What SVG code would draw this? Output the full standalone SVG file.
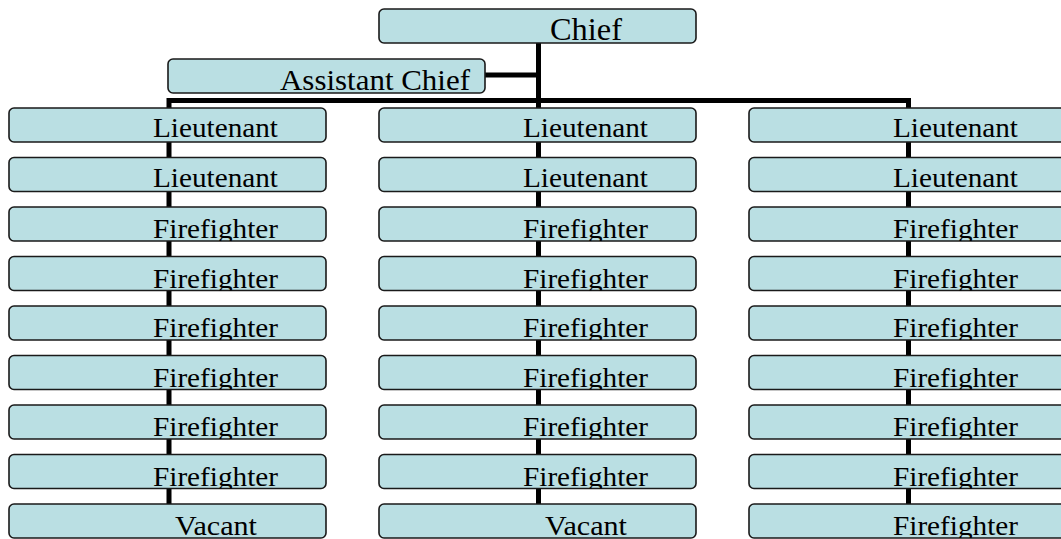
<svg xmlns="http://www.w3.org/2000/svg" width="1061" height="539" viewBox="0 0 1061 539">
  <style>
    .box { fill: #badfe3; stroke: #1a1a1a; stroke-width: 1.6; }
    .lbl { font-family: "Liberation Serif", "Times New Roman", serif; font-size: 27px; fill: #000; text-anchor: middle; }
    .big { font-size: 31px; }
    .mid { font-size: 30px; }
    .wire { fill: none; stroke: #000; stroke-width: 5; stroke-linejoin: miter; }
  </style>
  <defs>
    <!-- Labels are cut off at the lower edge of their boxes -->
    <clipPath id="rows">
      <rect x="0" y="9" width="1061" height="34"/>
      <rect x="0" y="59" width="1061" height="33"/>
      <rect x="0" y="108" width="1061" height="34"/>
      <rect x="0" y="157.5" width="1061" height="34"/>
      <rect x="0" y="207" width="1061" height="34"/>
      <rect x="0" y="256.5" width="1061" height="34"/>
      <rect x="0" y="306" width="1061" height="34"/>
      <rect x="0" y="355.5" width="1061" height="34"/>
      <rect x="0" y="405" width="1061" height="34"/>
      <rect x="0" y="454.5" width="1061" height="34"/>
      <rect x="0" y="504" width="1061" height="34"/>
    </clipPath>
    <rect id="cell" width="317" height="34" rx="5" ry="5"/>
  </defs>

  <!-- connectors -->
  <g id="connectors">
    <path class="wire" d="M538.5,43 V504"/>
    <path class="wire" d="M485,75 H538.5"/>
    <path class="wire" d="M169,504 V100.5 H908.5 V504"/>
  </g>

  <!-- top of the chain -->
  <g id="chief">
    <use href="#cell" class="box" x="379" y="9"/>
    <text class="lbl big" x="586" y="39.5" textLength="72" lengthAdjust="spacingAndGlyphs" clip-path="url(#rows)">Chief</text>
  </g>
  <g id="assistant-chief">
    <use href="#cell" class="box" x="168" y="59" height="33"/>
    <text class="lbl mid" x="375" y="89.5" textLength="190" lengthAdjust="spacingAndGlyphs" clip-path="url(#rows)">Assistant Chief</text>
  </g>

  <!-- column 1 -->
  <g id="c1-r1"><use href="#cell" class="box" x="9" y="108"/><text class="lbl" x="215.5" y="137" textLength="125" lengthAdjust="spacingAndGlyphs" clip-path="url(#rows)">Lieutenant</text></g>
  <g id="c1-r2"><use href="#cell" class="box" x="9" y="157.5"/><text class="lbl" x="215.5" y="186.5" textLength="125" lengthAdjust="spacingAndGlyphs" clip-path="url(#rows)">Lieutenant</text></g>
  <g id="c1-r3"><use href="#cell" class="box" x="9" y="207"/><text class="lbl" x="215.5" y="238" textLength="125" lengthAdjust="spacingAndGlyphs" clip-path="url(#rows)">Firefighter</text></g>
  <g id="c1-r4"><use href="#cell" class="box" x="9" y="256.5"/><text class="lbl" x="215.5" y="287.5" textLength="125" lengthAdjust="spacingAndGlyphs" clip-path="url(#rows)">Firefighter</text></g>
  <g id="c1-r5"><use href="#cell" class="box" x="9" y="306"/><text class="lbl" x="215.5" y="337" textLength="125" lengthAdjust="spacingAndGlyphs" clip-path="url(#rows)">Firefighter</text></g>
  <g id="c1-r6"><use href="#cell" class="box" x="9" y="355.5"/><text class="lbl" x="215.5" y="386.5" textLength="125" lengthAdjust="spacingAndGlyphs" clip-path="url(#rows)">Firefighter</text></g>
  <g id="c1-r7"><use href="#cell" class="box" x="9" y="405"/><text class="lbl" x="215.5" y="436" textLength="125" lengthAdjust="spacingAndGlyphs" clip-path="url(#rows)">Firefighter</text></g>
  <g id="c1-r8"><use href="#cell" class="box" x="9" y="454.5"/><text class="lbl" x="215.5" y="485.5" textLength="125" lengthAdjust="spacingAndGlyphs" clip-path="url(#rows)">Firefighter</text></g>
  <g id="c1-r9"><use href="#cell" class="box" x="9" y="504"/><text class="lbl" x="216" y="535" textLength="82" lengthAdjust="spacingAndGlyphs" clip-path="url(#rows)">Vacant</text></g>

  <!-- column 2 -->
  <g id="c2-r1"><use href="#cell" class="box" x="379" y="108"/><text class="lbl" x="585.5" y="137" textLength="125" lengthAdjust="spacingAndGlyphs" clip-path="url(#rows)">Lieutenant</text></g>
  <g id="c2-r2"><use href="#cell" class="box" x="379" y="157.5"/><text class="lbl" x="585.5" y="186.5" textLength="125" lengthAdjust="spacingAndGlyphs" clip-path="url(#rows)">Lieutenant</text></g>
  <g id="c2-r3"><use href="#cell" class="box" x="379" y="207"/><text class="lbl" x="585.5" y="238" textLength="125" lengthAdjust="spacingAndGlyphs" clip-path="url(#rows)">Firefighter</text></g>
  <g id="c2-r4"><use href="#cell" class="box" x="379" y="256.5"/><text class="lbl" x="585.5" y="287.5" textLength="125" lengthAdjust="spacingAndGlyphs" clip-path="url(#rows)">Firefighter</text></g>
  <g id="c2-r5"><use href="#cell" class="box" x="379" y="306"/><text class="lbl" x="585.5" y="337" textLength="125" lengthAdjust="spacingAndGlyphs" clip-path="url(#rows)">Firefighter</text></g>
  <g id="c2-r6"><use href="#cell" class="box" x="379" y="355.5"/><text class="lbl" x="585.5" y="386.5" textLength="125" lengthAdjust="spacingAndGlyphs" clip-path="url(#rows)">Firefighter</text></g>
  <g id="c2-r7"><use href="#cell" class="box" x="379" y="405"/><text class="lbl" x="585.5" y="436" textLength="125" lengthAdjust="spacingAndGlyphs" clip-path="url(#rows)">Firefighter</text></g>
  <g id="c2-r8"><use href="#cell" class="box" x="379" y="454.5"/><text class="lbl" x="585.5" y="485.5" textLength="125" lengthAdjust="spacingAndGlyphs" clip-path="url(#rows)">Firefighter</text></g>
  <g id="c2-r9"><use href="#cell" class="box" x="379" y="504"/><text class="lbl" x="586" y="535" textLength="82" lengthAdjust="spacingAndGlyphs" clip-path="url(#rows)">Vacant</text></g>

  <!-- column 3 -->
  <g id="c3-r1"><use href="#cell" class="box" x="749" y="108"/><text class="lbl" x="955.5" y="137" textLength="125" lengthAdjust="spacingAndGlyphs" clip-path="url(#rows)">Lieutenant</text></g>
  <g id="c3-r2"><use href="#cell" class="box" x="749" y="157.5"/><text class="lbl" x="955.5" y="186.5" textLength="125" lengthAdjust="spacingAndGlyphs" clip-path="url(#rows)">Lieutenant</text></g>
  <g id="c3-r3"><use href="#cell" class="box" x="749" y="207"/><text class="lbl" x="955.5" y="238" textLength="125" lengthAdjust="spacingAndGlyphs" clip-path="url(#rows)">Firefighter</text></g>
  <g id="c3-r4"><use href="#cell" class="box" x="749" y="256.5"/><text class="lbl" x="955.5" y="287.5" textLength="125" lengthAdjust="spacingAndGlyphs" clip-path="url(#rows)">Firefighter</text></g>
  <g id="c3-r5"><use href="#cell" class="box" x="749" y="306"/><text class="lbl" x="955.5" y="337" textLength="125" lengthAdjust="spacingAndGlyphs" clip-path="url(#rows)">Firefighter</text></g>
  <g id="c3-r6"><use href="#cell" class="box" x="749" y="355.5"/><text class="lbl" x="955.5" y="386.5" textLength="125" lengthAdjust="spacingAndGlyphs" clip-path="url(#rows)">Firefighter</text></g>
  <g id="c3-r7"><use href="#cell" class="box" x="749" y="405"/><text class="lbl" x="955.5" y="436" textLength="125" lengthAdjust="spacingAndGlyphs" clip-path="url(#rows)">Firefighter</text></g>
  <g id="c3-r8"><use href="#cell" class="box" x="749" y="454.5"/><text class="lbl" x="955.5" y="485.5" textLength="125" lengthAdjust="spacingAndGlyphs" clip-path="url(#rows)">Firefighter</text></g>
  <g id="c3-r9"><use href="#cell" class="box" x="749" y="504"/><text class="lbl" x="955.5" y="535" textLength="125" lengthAdjust="spacingAndGlyphs" clip-path="url(#rows)">Firefighter</text></g>
</svg>
